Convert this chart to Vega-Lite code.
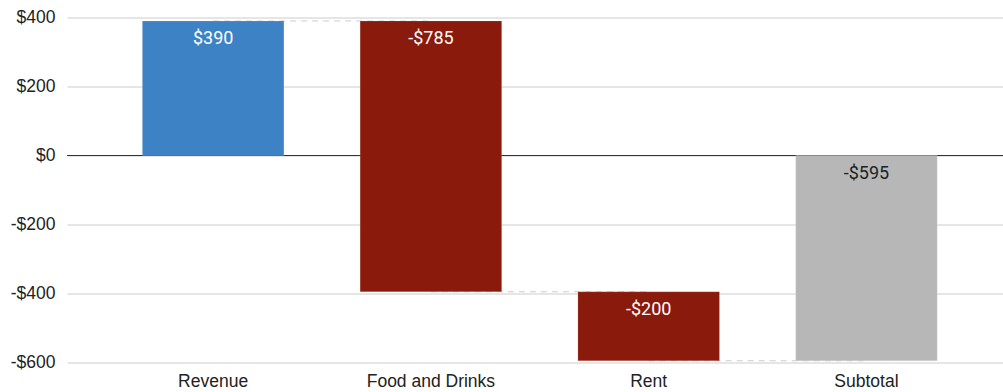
{
  "$schema": "https://vega.github.io/schema/vega-lite/v6.json",
  "autosize": {"type": "none"},
  "padding": {"left": 67, "top": 17.5, "right": 0, "bottom": 29.5},
  "width": 936,
  "height": 345,
  "background": "#ffffff",
  "config": {
    "view": {"stroke": null},
    "axis": {"labelFont": "Liberation Sans", "labelFontSize": 17.5, "labelColor": "#222222"}
  },
  "datasets": {
    "steps": [
      {"cat": "Revenue", "start": 0, "end": 390, "top": 390, "label": "$390", "kind": "Increase"},
      {"cat": "Food and Drinks", "start": 390, "end": -395, "top": 390, "label": "-$785", "kind": "Decrease"},
      {"cat": "Rent", "start": -395, "end": -595, "top": -395, "label": "-$200", "kind": "Decrease"},
      {"cat": "Subtotal", "start": 0, "end": -595, "top": 0, "label": "-$595", "kind": "Total"}
    ],
    "links": [
      {"from": "Revenue", "to": "Food and Drinks", "level": 390},
      {"from": "Food and Drinks", "to": "Rent", "level": -395},
      {"from": "Rent", "to": "Subtotal", "level": -595}
    ]
  },
  "resolve": {"scale": {"x": "shared", "y": "shared"}},
  "layer": [
    {
      "data": {"name": "steps"},
      "mark": {"type": "rule", "color": "#333333", "strokeWidth": 1},
      "encoding": {
        "y": {
          "datum": 0,
          "type": "quantitative",
          "scale": {"domain": [-600, 400], "nice": false, "zero": false},
          "axis": {
            "title": null,
            "values": [-600, -400, -200, 0, 200, 400],
            "labelExpr": "(datum.value < 0 ? '-' : '') + '$' + abs(datum.value)",
            "domain": false,
            "ticks": false,
            "labelPadding": 12,
            "grid": true,
            "gridColor": "#cccccc",
            "gridWidth": 1
          }
        }
      }
    },
    {
      "data": {"name": "links"},
      "mark": {"type": "rule", "color": "#cccccc", "strokeWidth": 1, "strokeDash": [6, 5]},
      "encoding": {
        "x": {
          "field": "from",
          "type": "nominal",
          "scale": {"domain": ["Revenue", "Food and Drinks", "Rent", "Subtotal"], "paddingInner": 0.35, "paddingOuter": 0.324, "align": 0.534},
          "axis": {"title": null, "labelAngle": 0, "domain": false, "ticks": false, "labelPadding": 10, "labelBaseline": "top"}
        },
        "x2": {"field": "to"},
        "y": {"field": "level", "type": "quantitative"}
      }
    },
    {
      "data": {"name": "steps"},
      "mark": {"type": "bar", "stroke": "#ffffff", "strokeOpacity": 0.15, "strokeWidth": 1},
      "encoding": {
        "x": {"field": "cat", "type": "nominal"},
        "y": {"field": "start", "type": "quantitative"},
        "y2": {"field": "end"},
        "color": {
          "field": "kind",
          "type": "nominal",
          "scale": {"domain": ["Increase", "Decrease", "Total"], "range": ["#3d82c4", "#8a1a0b", "#b7b7b7"]},
          "legend": null
        }
      }
    },
    {
      "data": {"name": "steps"},
      "mark": {"type": "text", "font": "Roboto", "fontSize": 18, "baseline": "middle", "align": "center", "dy": 18.5},
      "encoding": {
        "x": {"field": "cat", "type": "nominal"},
        "y": {"field": "top", "type": "quantitative"},
        "text": {"field": "label"},
        "color": {
          "field": "kind",
          "type": "nominal",
          "scale": {"domain": ["Increase", "Decrease", "Total"], "range": ["#3d82c4", "#8a1a0b", "#b7b7b7"]},
          "legend": null
        },
        "fill": {
          "field": "kind",
          "type": "nominal",
          "scale": {"domain": ["Increase", "Decrease", "Total"], "range": ["#ffffff", "#ffffff", "#222222"]},
          "legend": null
        }
      }
    }
  ]
}
